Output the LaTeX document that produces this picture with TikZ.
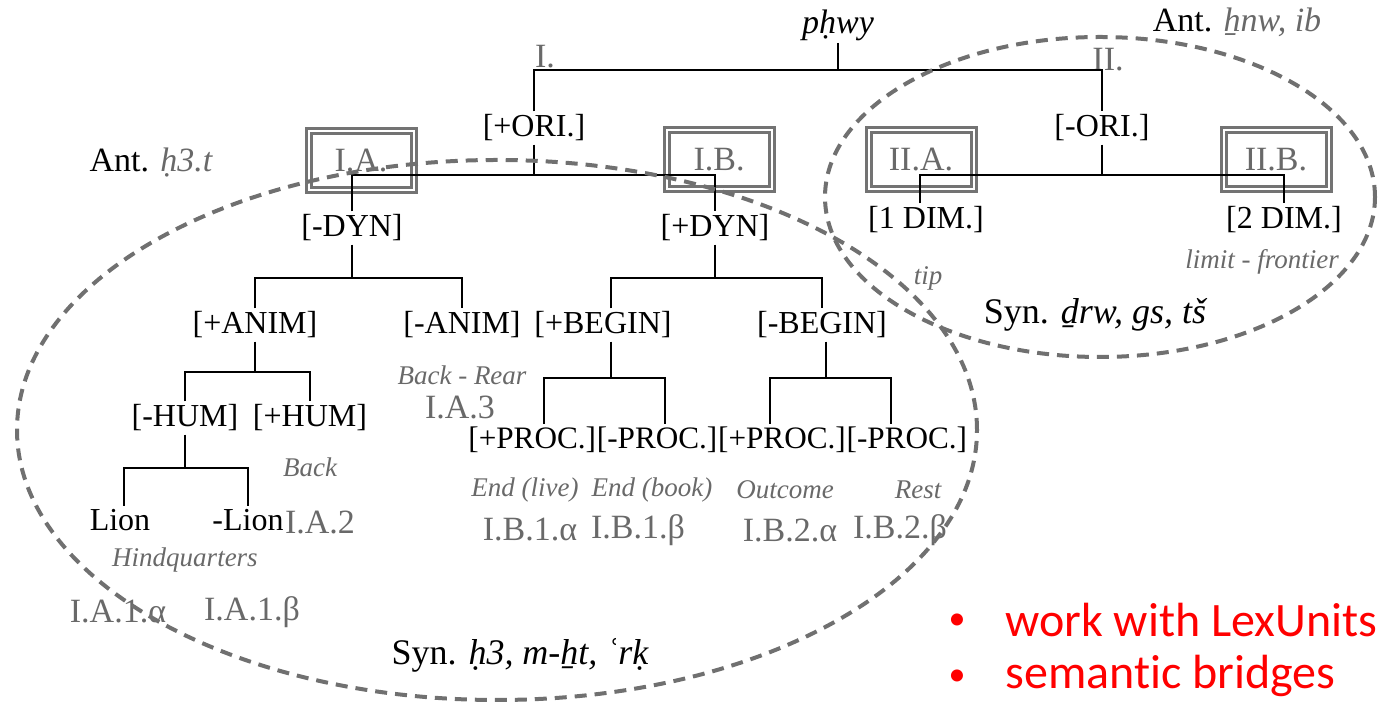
\documentclass[tikz,border=0pt]{standalone}
\usepackage{fontspec}
\setmainfont{Liberation Serif}
\newfontfamily\redfont[Ligatures={NoCommon}]{Carlito}
\definecolor{tgray}{RGB}{105,105,105}
\definecolor{bgray}{RGB}{115,115,115}
\definecolor{egray}{RGB}{112,112,112}
\definecolor{rred}{RGB}{255,0,0}
\tikzset{
  lab/.style={font=\fontsize{16}{19}\selectfont, inner sep=1.5pt},
  plab/.style={font=\fontsize{15.6}{19}\selectfont, inner xsep=0pt, inner ysep=1.5pt, anchor=west},
  glab/.style={text=tgray, font=\fontsize{17}{20}\selectfont, inner sep=1pt},
  gital/.style={text=tgray, font=\fontsize{13.5}{16}\selectfont\itshape, inner sep=1pt},
  biglab/.style={font=\fontsize{18}{21}\selectfont, inner sep=1pt},
  dbox/.style={draw=bgray, double=white, line width=1.5pt, double distance=1pt,
    minimum width=52.5pt, minimum height=29.5pt, inner sep=0pt},
  tree/.style={line width=1pt, black},
  ell/.style={draw=egray, line width=2pt, dash pattern=on 6pt off 4pt},
  redtxt/.style={text=rred, font=\redfont\fontsize{24}{28}\selectfont, anchor=west, inner sep=0pt},
  redbul/.style={text=rred, font=\redfont\fontsize{17}{20}\selectfont, inner sep=0pt},
}
\begin{document}
\begin{tikzpicture}[x=0.5pt, y=-0.5pt]
\useasboundingbox (0,0) rectangle (1382,704);
% boxes
\node[dbox, glab] (bIA) at (361,161) {I.A.};
\node[dbox, glab] (bIB) at (719,160) {I.B.};
\node[dbox, glab] (bIIA) at (921,160) {II.A.};
\node[dbox, glab] (bIIB) at (1276,160) {II.B.};
% labels
\node[font=\fontsize{17}{20}\selectfont\itshape, inner sep=1pt] (phwy) at (838,25) {pḥwy};
\node[glab] (lI) at (545,57) {I.};
\node[glab] (lII) at (1108,60) {II.};
\node[font=\fontsize{17}{20}\selectfont, inner sep=1pt] (antR) at (1237,22) {Ant. {\color{tgray}\itshape ẖnw, ib}};
\node[lab] (ori) at (534,128) {[+ORI.]};
\node[lab] (nori) at (1102,128) {[-ORI.]};
\node[font=\fontsize{17}{20}\selectfont, inner sep=1pt] (antL) at (151,163) {Ant. {\color{tgray}\itshape ḥ3.t}};
\node[lab] (dynm) at (352,228) {[-DYN]};
\node[lab] (dynp) at (715,228) {[+DYN]};
\node[lab] (dim1) at (926,220) {[1 DIM.]};
\node[lab] (dim2) at (1284,220) {[2 DIM.]};
\node[gital] (tip) at (928,278) {tip};
\node[gital] (limit) at (1262,262) {limit - frontier};
\node[biglab] (synR) at (1095,315) {Syn. {\itshape ḏrw, gs, tš}};
\node[lab] (anim) at (255,325) {[+ANIM]};
\node[lab] (anima) at (462,325) {[-ANIM]};
\node[lab] (beginp) at (603,325) {[+BEGIN]};
\node[lab] (beginm) at (822,325) {[-BEGIN]};
\node[gital] (backrear) at (462,375) {Back - Rear};
\node[glab] (IA3) at (460,407) {I.A.3};
\node[lab] (humm) at (185,418) {[-HUM]};
\node[lab] (hump) at (310,418) {[+HUM]};
\node[gital] (back) at (310,467) {Back};
\node[plab] (p1) at (468,440) {[+PROC.]};
\node[plab] (p2) at (p1.east) {[-PROC.]};
\node[plab] (p3) at (p2.east) {[+PROC.]};
\node[plab] (p4) at (p3.east) {[-PROC.]};
\node[gital] (endlive) at (525,490) {End (live)};
\node[gital] (endbook) at (652,490) {End (book)};
\node[gital] (outcome) at (785,490) {Outcome};
\node[gital] (rest) at (918,490) {Rest};
\node[glab] (IB1a) at (530,530) {I.B.1.α};
\node[glab] (IB1b) at (638,530) {I.B.1.β};
\node[glab] (IB2a) at (790,530) {I.B.2.α};
\node[glab] (IB2b) at (900,530) {I.B.2.β};
\node[lab] (lion) at (120,520) {Lion};
\node[lab] (nlion) at (248,520) {-Lion};
\node[glab] (IA2) at (320,522) {I.A.2};
\node[gital] (hind) at (185,560) {Hindquarters};
\node[glab] (IA1a) at (118,612) {I.A.1.α};
\node[glab] (IA1b) at (252,612) {I.A.1.β};
\node[biglab] (synL) at (520,655) {Syn. {\itshape ḥ3, m-ẖt, ʿrḳ}};
% tree connectors
\coordinate (top) at (838,70);
\draw[tree] (phwy.south) -- (phwy.south |- top);
\draw[tree] (ori.north) |- (top) -| (nori.north);
\coordinate (barI) at (541,175);
\draw[tree] (ori.south) -- (ori.south |- barI);
\draw[tree] (dynm.north) |- (barI) -| (dynp.north);
\coordinate (barII) at (1106,175);
\draw[tree] (nori.south) -- (nori.south |- barII);
\draw[tree] ([xshift=-3pt]dim1.north) |- (barII) -| (dim2.north);
\coordinate (barD) at (355,278);
\draw[tree] (dynm.south) -- (dynm.south |- barD);
\draw[tree] (anim.north) |- (barD) -| (anima.north);
\coordinate (barP) at (715,278);
\draw[tree] (dynp.south) -- (dynp.south |- barP);
\draw[tree] ([xshift=4pt]beginp.north) |- (barP) -| (beginm.north);
\coordinate (barAn) at (252,372);
\draw[tree] (anim.south) -- (anim.south |- barAn);
\draw[tree] (humm.north) |- (barAn) -| (hump.north);
\coordinate (barH) at (188,468);
\draw[tree] (humm.south) -- (humm.south |- barH);
\draw[tree] ([xshift=2pt]lion.north) |- (barH) -| (nlion.north);
\coordinate (barB1) at (610,378);
\draw[tree] ([xshift=4pt]beginp.south) -- ([xshift=4pt]beginp.south |- barB1);
\draw[tree] ([xshift=6pt]p1.north) |- (barB1) -| ([xshift=4pt]p2.north);
\coordinate (barB2) at (827,378);
\draw[tree] ([xshift=2pt]beginm.south) -- ([xshift=2pt]beginm.south |- barB2);
\draw[tree] ([xshift=-6pt]p3.north) |- (barB2) -| ([xshift=-8pt]p4.north);
% dashed ellipses
\draw[ell] (497,430) ellipse [x radius=240pt, y radius=135pt];
\draw[ell] (1100,197) ellipse [x radius=137.5pt, y radius=80pt];
% red bullets
\node[redbul] (b1) at (957,622) {•};
\node[redtxt] (t1) at (1005,620) {work with LexUnits};
\node[redbul] (b2) at (957,678) {•};
\node[redtxt] (t2) at (1005,676) {semantic bridges};
\end{tikzpicture}
\end{document}
